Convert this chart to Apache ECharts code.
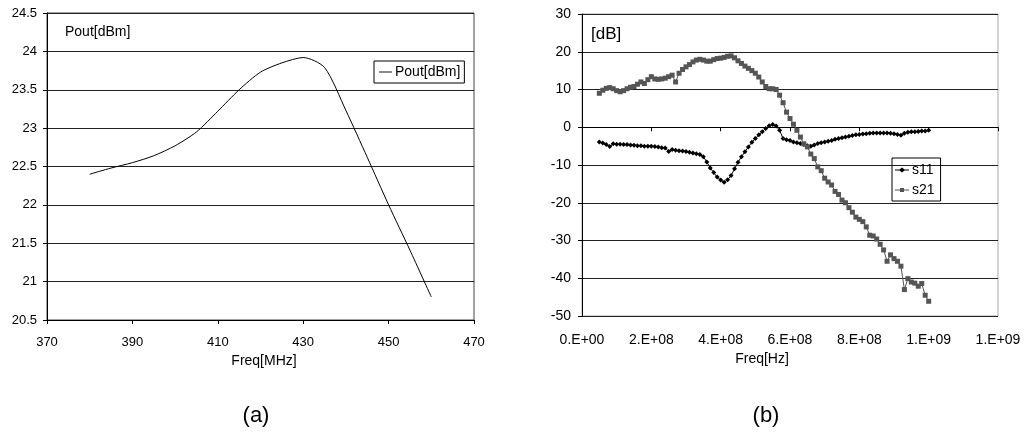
<!DOCTYPE html>
<html>
<head>
<meta charset="utf-8">
<script src="https://cdn.jsdelivr.net/npm/echarts@6/dist/echarts.min.js"></script>
<style>
  html, body { margin: 0; padding: 0; background: #fff; }
  #chart { width: 1026px; height: 436px; }
</style>
</head>
<body>
<div id="chart"></div>
<script>
// (a) output power vs frequency
var aFreq = [380, 385, 390, 395, 400, 405, 410, 415, 420, 425, 430, 435, 440, 445, 450, 455, 460];
var aPout = [22.40, 22.48, 22.55, 22.64, 22.77, 22.95, 23.22, 23.50, 23.73, 23.85, 23.92, 23.79, 23.23, 22.62, 22.0, 21.41, 20.8];
var aXTicks = [370, 390, 410, 430, 450, 470];

// (b) s-parameters, frequency in MHz
var bFreq = [50, 60, 70, 80, 90, 100, 110, 120, 130, 140, 150, 160, 170, 180, 190, 200,
  210, 220, 230, 240, 250, 260, 270, 280, 290, 300, 310, 320, 330, 340, 350, 360,
  370, 380, 390, 400, 410, 420, 430, 440, 450, 460, 470, 480, 490, 500, 510, 520,
  530, 540, 550, 560, 570, 580, 590, 600, 610, 620, 630, 640, 650, 660, 670, 680,
  690, 700, 710, 720, 730, 740, 750, 760, 770, 780, 790, 800, 810, 820, 830, 840,
  850, 860, 870, 880, 890, 900, 910, 920, 930, 940, 950, 960, 970, 980, 990, 1000];
var s11 = [-3.9, -4.2, -4.6, -5.1, -4.4, -4.5, -4.5, -4.6, -4.6, -4.7, -4.8, -4.9, -4.9, -5.0, -5.0, -5.0,
  -5.1, -5.2, -5.4, -5.5, -6.4, -5.9, -6.1, -6.2, -6.3, -6.4, -6.6, -6.8, -7.0, -7.2, -7.8, -9.2,
  -10.8, -12.0, -13.2, -14.0, -14.6, -13.9, -12.8, -11.0, -9.3, -7.8, -6.5, -5.2, -4.0, -3.0, -2.0, -1.2,
  -0.3, 0.4, 0.7, 0.3, -0.8, -3.0, -3.3, -3.5, -3.9, -4.1, -4.3, -4.6, -4.9, -5.0, -4.7, -4.3,
  -4.1, -3.9, -3.7, -3.5, -3.2, -3.0, -2.8, -2.6, -2.4, -2.2, -2.0, -1.9, -1.8, -1.7, -1.6, -1.55,
  -1.5, -1.5, -1.5, -1.5, -1.6, -1.7, -1.9, -2.1, -1.6, -1.3, -1.2, -1.2, -1.1, -1.0, -1.0, -0.8];
var s21 = [9.0, 9.8, 10.3, 10.5, 10.2, 9.7, 9.4, 9.7, 10.2, 10.6, 10.8, 11.4, 12.0, 11.6, 12.6, 13.4,
  12.8, 12.7, 12.8, 13.0, 13.4, 13.8, 12.0, 14.3, 15.3, 16.0, 16.6, 17.3, 17.8, 18.0, 17.8, 17.5,
  17.5, 17.9, 18.2, 18.3, 18.5, 18.8, 18.9, 18.4, 17.6, 16.9, 16.2, 15.6, 15.0, 14.3, 13.3, 12.0,
  10.8, 10.2, 10.2, 10.0, 8.5, 6.5, 4.0, 2.3, 0.8, -0.8, -2.6, -4.4, -5.2, -7.1, -8.3, -10.5,
  -11.5, -13.5, -14.5, -15.3, -17.0, -17.8, -19.3, -20.0, -21.3, -22.5, -23.8, -24.4, -25.0, -26.4, -28.6, -28.8,
  -29.6, -31.0, -32.5, -35.5, -33.8, -34.8, -35.5, -36.8, -43.0, -40.1, -41.0, -41.3, -42.1, -41.4, -44.5, -46.1];
var bXLabels = ['0.E+00', '2.E+08', '4.E+08', '6.E+08', '8.E+08', '1.E+09', '1.E+09'];

var font = 'Liberation Sans, Arial, sans-serif';

// legend icons: plain line, line with diamond, line with square
var iconLine = 'path://M0,0L14,0L14,1L0,1Z';
var iconDiamond = 'path://M0,2L4.5,2L7,0L9.5,2L14,2L14,3L9.5,3L7,5L4.5,3L0,3Z';
var iconSquare = 'path://M0,2L5,2L5,0.5L9,0.5L9,2L14,2L14,3L9,3L9,4.5L5,4.5L5,3L0,3Z';

function pairs(xs, ys, scale) {
    var out = [];
    for (var i = 0; i < xs.length; i++) {
        out.push([xs[i] * scale, ys[i]]);
    }
    return out;
}

var chart = echarts.init(document.getElementById('chart'));

var option = {
    animation: false,
    backgroundColor: '#fff',
    textStyle: { fontFamily: font, color: '#000' },
    title: [
        { text: 'Pout[dBm]', left: 65, top: 25, padding: 0,
          textStyle: { fontFamily: font, fontSize: 14, fontWeight: 'normal', color: '#000' } },
        { text: '[dB]', left: 591, top: 26, padding: 0,
          textStyle: { fontFamily: font, fontSize: 17, fontWeight: 'normal', color: '#000' } }
    ],
    legend: [
        {
            left: 374, top: 61,
            padding: [3, 4, 3, 5],
            itemWidth: 13, itemHeight: 1, itemGap: 4,
            borderColor: '#000', borderWidth: 1,
            textStyle: { fontFamily: font, fontSize: 14, color: '#000', padding: [0, 0, 0, -2], lineHeight: 16 },
            data: [{ name: 'Pout[dBm]', icon: iconLine }]
        },
        {
            left: 892, top: 158,
            orient: 'vertical',
            padding: [4, 6, 3, 3],
            itemWidth: 14, itemHeight: 5, itemGap: 4,
            borderColor: '#000', borderWidth: 1,
            textStyle: { fontFamily: font, fontSize: 14, color: '#000', padding: [0, 0, 0, -2], lineHeight: 16 },
            data: [{ name: 's11', icon: iconDiamond }, { name: 's21', icon: iconSquare }]
        }
    ],
    grid: [
        { left: 47, top: 13, width: 427, height: 307, show: true, borderColor: '#444', borderWidth: 1 },
        { left: 582, top: 14, width: 416, height: 302, show: true, borderColor: '#aaa', borderWidth: 1 }
    ],
    xAxis: [
        {
            gridIndex: 0, type: 'value', min: 370, max: 470, interval: 20,
            name: 'Freq[MHz]', nameLocation: 'middle', nameGap: 33,
            nameTextStyle: { fontFamily: font, fontSize: 14, color: '#000', padding: [0, 0, 0, 7] },
            axisLine: { show: true, lineStyle: { color: '#000', width: 1 } },
            axisTick: { show: true, length: 4, lineStyle: { color: '#000' }, customValues: aXTicks },
            axisLabel: { fontFamily: font, fontSize: 13, color: '#000', margin: 16, customValues: aXTicks },
            splitLine: { show: false }
        },
        {
            gridIndex: 1, type: 'value', min: 0, max: 1.2e9, interval: 2e8,
            name: 'Freq[Hz]', nameLocation: 'middle', nameGap: 34,
            nameTextStyle: { fontFamily: font, fontSize: 14, color: '#000', padding: [0, 56, 0, 0] },
            axisLine: { show: true, lineStyle: { color: '#000', width: 1 } },
            axisTick: { show: true, length: 4, lineStyle: { color: '#000' } },
            axisLabel: {
                fontFamily: font, fontSize: 14, color: '#000', margin: 17,
                formatter: function (v) { return bXLabels[Math.round(v / 2e8)]; }
            },
            splitLine: { show: false }
        }
    ],
    yAxis: [
        {
            gridIndex: 0, type: 'value', min: 20.5, max: 24.5, interval: 0.5,
            axisLine: { show: true, lineStyle: { color: '#000', width: 1 } },
            axisTick: { show: true, length: 4, lineStyle: { color: '#000' } },
            axisLabel: { fontFamily: font, fontSize: 13, color: '#000', margin: 10 },
            splitLine: { show: true, lineStyle: { color: '#222', width: 1 } }
        },
        {
            gridIndex: 1, type: 'value', min: -50, max: 30, interval: 10,
            axisLine: { show: true, lineStyle: { color: '#000', width: 1 } },
            axisTick: { show: true, length: 4, lineStyle: { color: '#000' } },
            axisLabel: { fontFamily: font, fontSize: 14, color: '#000', margin: 11 },
            splitLine: { show: true, lineStyle: { color: '#222', width: 1 } }
        }
    ],
    series: [
        {
            name: 'Pout[dBm]', type: 'line', xAxisIndex: 0, yAxisIndex: 0,
            data: pairs(aFreq, aPout, 1),
            smooth: 0.25, symbol: 'none',
            lineStyle: { color: '#000', width: 1 },
            itemStyle: { color: '#000' }
        },
        {
            name: 's11', type: 'line', xAxisIndex: 1, yAxisIndex: 1,
            data: pairs(bFreq, s11, 1e6),
            symbol: 'diamond', symbolSize: 5,
            lineStyle: { color: '#000', width: 1 },
            itemStyle: { color: '#000' }
        },
        {
            name: 's21', type: 'line', xAxisIndex: 1, yAxisIndex: 1,
            data: pairs(bFreq, s21, 1e6),
            symbol: 'rect', symbolSize: 5,
            lineStyle: { color: '#555', width: 1 },
            itemStyle: { color: '#555' }
        }
    ],
    graphic: [
        { type: 'text', x: 256, y: 416, style: { text: '(a)', fontFamily: font, fontSize: 22, fill: '#000', align: 'center', verticalAlign: 'middle' } },
        { type: 'text', x: 766, y: 416, style: { text: '(b)', fontFamily: font, fontSize: 22, fill: '#000', align: 'center', verticalAlign: 'middle' } }
    ]
};

chart.setOption(option);
</script>
</body>
</html>
